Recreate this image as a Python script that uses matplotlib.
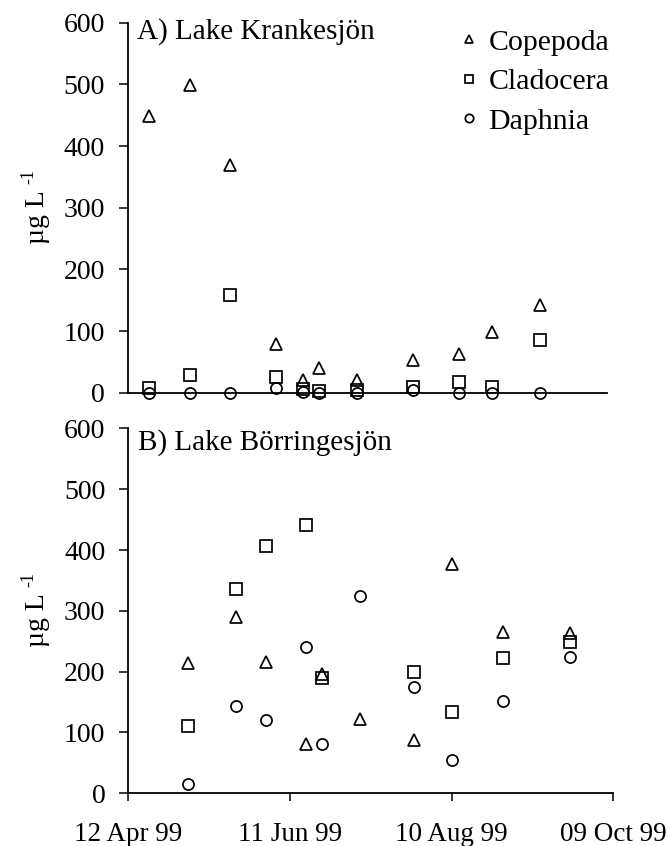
import matplotlib
matplotlib.use('Agg')
import matplotlib.pyplot as plt
import matplotlib.dates as mdates
import numpy as np
from datetime import datetime

plt.rcParams['font.family'] = ['Liberation Serif', 'DejaVu Serif']

# ---- data ----
dates_A = ['1999-04-20', '1999-05-05', '1999-05-20', '1999-06-06', '1999-06-16', '1999-06-22',
           '1999-07-06', '1999-07-27', '1999-08-13', '1999-08-25', '1999-09-12']
cope_A = [448, 499, 369, 79, 21, 40, 21, 53, 63, 98, 142]
clad_A = [7, 29, 158, 26, 6, 2, 4, 10, 18, 10, 85]
daph_A = [0, 0, 0, 7, 1, 0, 0, 4, 0, 0, 0]

dates_B = ['1999-05-04', '1999-05-22', '1999-06-02', '1999-06-17', '1999-06-23', '1999-07-07',
           '1999-07-27', '1999-08-10', '1999-08-29', '1999-09-23']
cope_B = [214, 290, 216, 81, 197, 122, 88, 377, 266, 263]
clad_B = [111, 336, 407, 441, 189, np.nan, 199, 134, 222, 249]
daph_B = [15, 144, 121, 241, 81, 325, 175, 54, 151, 224]

series_names = ['Copepoda', 'Cladocera', 'Daphnia']
tick_dates = ['1999-04-12', '1999-06-11', '1999-08-10', '1999-10-09']
panel_titles = ['A) Lake Krankesjön', 'B) Lake Börringesjön']

def to_num(ds):
    return mdates.date2num([datetime.strptime(d, '%Y-%m-%d') for d in ds])

W, H = 668, 846
fig = plt.figure(figsize=(W / 100, H / 100), dpi=100)

axA = fig.add_axes([127.8 / W, 1 - 392.7 / H, (607 - 127.8) / W, 370 / H])
axB = fig.add_axes([128.3 / W, 1 - 793.3 / H, (613.3 - 128.3) / W, 364.8 / H])

tnum = to_num(tick_dates)
mk = dict(linestyle='none', mfc='none', mec='black', mew=1.25)
styles = [('^', 8.5), ('s', 8), ('o', 8)]

for ax, dts, vals in [(axA, dates_A, [cope_A, clad_A, daph_A]),
                      (axB, dates_B, [cope_B, clad_B, daph_B])]:
    x = to_num(dts)
    for (m, s), v, name in zip(styles, vals, series_names):
        ax.plot(x, v, marker=m, markersize=s, label=name, clip_on=False, **mk)
    ax.set_ylim(0, 600)
    ax.set_yticks([0, 100, 200, 300, 400, 500, 600])
    ax.spines['top'].set_visible(False)
    ax.spines['right'].set_visible(False)
    for sp in ['left', 'bottom']:
        ax.spines[sp].set_linewidth(1.3)
    ax.tick_params(axis='y', direction='out', length=6.5, width=1.1, labelsize=20, pad=10)
    ax.patch.set_visible(False)

axA.set_xlim(tnum[0], tnum[0] + (607 - 127.8) / (485.0 / 180.0))
axB.set_xlim(tnum[0], tnum[-1])
axA.tick_params(axis='x', bottom=False, labelbottom=False)
axB.set_xticks(tnum)
axB.xaxis.set_major_formatter(mdates.DateFormatter('%d %b %y'))
axB.tick_params(axis='x', direction='out', length=6, width=1.1, labelsize=19.5, pad=15)

axA.text(136.7 / W, 1 - 38.3 / H, panel_titles[0], transform=fig.transFigure,
         fontsize=21, ha='left', va='baseline')
axB.text(138.3 / W, 1 - 450 / H, panel_titles[1], transform=fig.transFigure,
         fontsize=21, ha='left', va='baseline')

# y-axis label: "µg L" with a small raised "-1"
for off in [0, 403.3]:
    fig.text(38 / W, 1 - (217 + off) / H, 'µg L', rotation=90, ha='center', va='center', fontsize=20)
    fig.text(28.5 / W, 1 - (176 + off) / H, '-1', rotation=90, ha='center', va='center', fontsize=13)

leg = axA.legend(loc='upper left', bbox_to_anchor=(460 / W, 1 - 29 / H), bbox_transform=fig.transFigure,
                 frameon=False, fontsize=21.5, markerscale=0.75, handlelength=0.6,
                 handletextpad=0.35, labelspacing=0.42, borderpad=0, borderaxespad=0)

fig.savefig('out.png', dpi=100)
